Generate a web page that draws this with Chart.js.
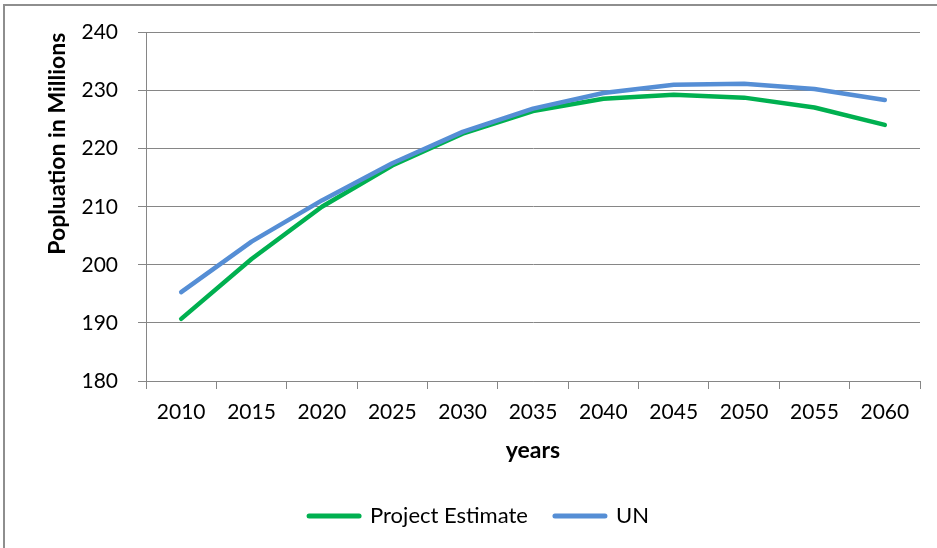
<!DOCTYPE html>
<html>
<head>
<meta charset="utf-8">
<script src="https://cdn.jsdelivr.net/npm/chart.js@4/dist/chart.umd.min.js"></script>
<style>
  html, body { margin: 0; padding: 0; background: #ffffff; }
  #wrap { position: relative; width: 937px; height: 548px; overflow: hidden; }
  #frame { position: absolute; left: 3px; top: 4px; width: 960px; height: 570px; border: 2px solid #8e8e8e; box-sizing: border-box; }
  #c { position: absolute; left: 0; top: 0; }
</style>
</head>
<body>
<div id="wrap">
  <div id="frame"></div>
  <canvas id="c" width="937" height="548"></canvas>
</div>
<script>
const years = ['2010','2015','2020','2025','2030','2035','2040','2045','2050','2055','2060'];
const projectEstimate = [190.7, 201.0, 210.0, 217.1, 222.6, 226.5, 228.6, 229.3, 228.8, 227.1, 224.1];
const unValues = [195.3, 204.0, 211.1, 217.5, 222.9, 226.9, 229.6, 231.0, 231.2, 230.3, 228.4];
const yMin = 180, yMax = 240, yStep = 10;
const yTitle = 'Popluation in Millions';
const xTitle = 'years';
const seriesNames = ['Project Estimate', 'UN'];

const GREEN = '#00B050';
const BLUE = '#558ED5';
const GRID = '#868686';
const FONT = 'Lato';

new Chart(document.getElementById('c'), {
  type: 'line',
  data: {
    labels: years,
    datasets: [
      { label: seriesNames[0], data: projectEstimate, borderColor: GREEN, backgroundColor: GREEN, order: 1 },
      { label: seriesNames[1], data: unValues, borderColor: BLUE, backgroundColor: BLUE, order: 0 }
    ]
  },
  options: {
    responsive: false,
    animation: false,
    devicePixelRatio: 1,
    layout: { padding: { left: 38, right: 17, top: 32, bottom: 11 } },
    elements: {
      line: { borderWidth: 4.5, tension: 0, borderCapStyle: 'round', borderJoinStyle: 'round' },
      point: { radius: 0, hoverRadius: 0 }
    },
    plugins: {
      tooltip: { enabled: false },
      legend: {
        position: 'bottom',
        labels: {
          font: { family: FONT, size: 22 },
          color: '#000',
          usePointStyle: true,
          pointStyleWidth: 50,
          padding: 27,
          sort: (a, b) => a.datasetIndex - b.datasetIndex,
          generateLabels: (chart) => chart.data.datasets.map((ds, i) => ({
            text: ds.label,
            fillStyle: ds.borderColor,
            strokeStyle: ds.borderColor,
            lineWidth: 5,
            lineCap: 'round',
            pointStyle: 'line',
            fontColor: '#000',
            hidden: false,
            datasetIndex: i
          }))
        }
      }
    },
    scales: {
      x: {
        offset: true,
        grid: { offset: true, drawOnChartArea: false, drawTicks: true, tickLength: 8, color: GRID, lineWidth: 1 },
        border: { color: GRID, width: 1 },
        ticks: { font: { family: FONT, size: 21 }, color: '#000', padding: 11, maxRotation: 0, autoSkip: false },
        title: { display: true, text: xTitle, font: { family: FONT, size: 23, weight: 'bold' }, color: '#000', padding: { top: 0, bottom: 14 } },
        afterFit: (s) => { s.height = 97; }
      },
      y: {
        min: yMin, max: yMax,
        ticks: { stepSize: yStep, font: { family: FONT, size: 21 }, color: '#000', padding: 20 },
        grid: { color: GRID, lineWidth: 1, tickLength: 8, drawTicks: true },
        border: { color: GRID, width: 1 },
        title: { display: true, text: yTitle, align: 'end', font: { family: FONT, size: 23, weight: 'bold' }, color: '#000', padding: { top: 6, bottom: 0 } },
        afterFit: (s) => { s.width = 108; }
      }
    }
  }
});
</script>
</body>
</html>
